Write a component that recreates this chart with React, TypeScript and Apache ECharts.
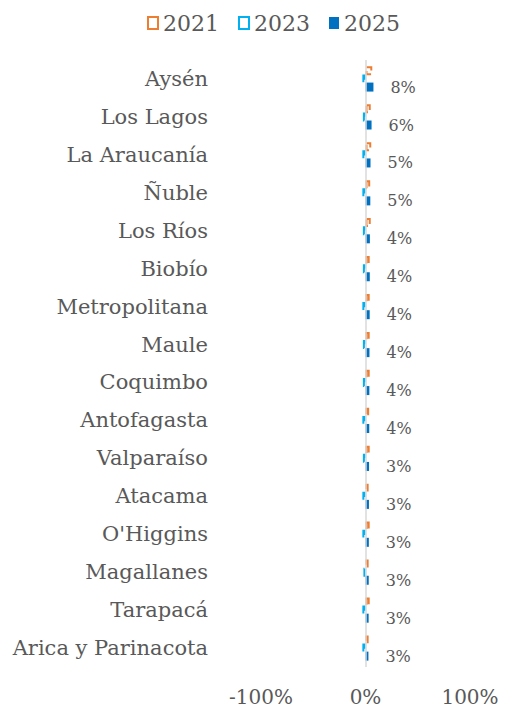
import React, { useEffect, useRef } from "react";
import * as echarts from "echarts";

const categories = [
  "Aysén", "Los Lagos", "La Araucanía", "Ñuble", "Los Ríos", "Biobío",
  "Metropolitana", "Maule", "Coquimbo", "Antofagasta", "Valparaíso",
  "Atacama", "O'Higgins", "Magallanes", "Tarapacá", "Arica y Parinacota",
];
const v2021 = [6.5, 5, 5.5, 4.5, 5, 4, 4, 4, 4, 3.5, 4, 3, 4, 3, 4, 3];
const v2023 = [-3, -2.5, -3, -3, -2.5, -2.5, -3, -2.5, -2.5, -3, -2.5, -3, -3, -2, -3, -3];
const v2025 = [7.6, 5.8, 4.8, 4.6, 4.2, 4.1, 4.0, 3.8, 3.7, 3.6, 3.4, 3.3, 3.2, 3.1, 3.0, 2.8];
const xTicks = { min: -100, max: 100, interval: 100 };

const FONT = "DejaVu Serif";
const TEXT = "#595959";

export default function App() {
  const ref = useRef<HTMLDivElement>(null);
  useEffect(() => {
    document.body.style.margin = "0";
    const chart = echarts.init(ref.current!, null, { renderer: "svg" });
    chart.setOption({
      animation: false,
      textStyle: { fontFamily: FONT, color: TEXT },
      legend: {
        top: 7,
        left: 142,
        icon: "rect",
        itemWidth: 10,
        itemHeight: 12,
        itemGap: 19,
        textStyle: { fontFamily: FONT, fontSize: 22, color: TEXT },
        data: ["2021", "2023", "2025"],
      },
      grid: { left: 261, right: 38, top: 60, bottom: 43, containLabel: false },
      xAxis: {
        type: "value",
        min: xTicks.min,
        max: xTicks.max,
        interval: xTicks.interval,
        splitLine: { show: false },
        axisLine: { show: false },
        axisTick: { show: false },
        axisLabel: { formatter: "{value}%", fontFamily: FONT, fontSize: 20, color: TEXT, margin: 20 },
      },
      yAxis: {
        type: "category",
        inverse: true,
        data: categories,
        axisLine: { show: false },
        axisTick: { show: false },
        axisLabel: { fontFamily: FONT, fontSize: 21, color: TEXT, margin: 53 },
      },
      series: [
        {
          name: "2021",
          type: "bar",
          data: v2021,
          barWidth: 9,
          barGap: "-10%",
          itemStyle: { color: "rgba(255,255,255,0)", borderColor: "#ED7D31", borderType: "dashed", borderWidth: 2 },
          markLine: {
            silent: true,
            symbol: "none",
            label: { show: false },
            lineStyle: { color: "#d9d9d9", width: 1.5, type: "solid" },
            data: [{ xAxis: 0 }],
          },
        },
        {
          name: "2023",
          type: "bar",
          data: v2023,
          barWidth: 9,
          barGap: "-10%",
          itemStyle: { color: "rgba(255,255,255,0)", borderColor: "#00B0F0", borderType: "dashed", borderWidth: 2 },
        },
        {
          name: "2025",
          type: "bar",
          data: v2025,
          barWidth: 9,
          barGap: "-10%",
          itemStyle: { color: "#0070C0" },
          label: {
            show: true,
            position: "right",
            distance: 17,
            fontFamily: FONT,
            fontSize: 16,
            color: TEXT,
            formatter: (p: any) => Math.round(p.value) + "%",
          },
        },
      ],
    });
    return () => chart.dispose();
  }, []);
  return <div ref={ref} style={{ width: 508, height: 710 }} />;
}
